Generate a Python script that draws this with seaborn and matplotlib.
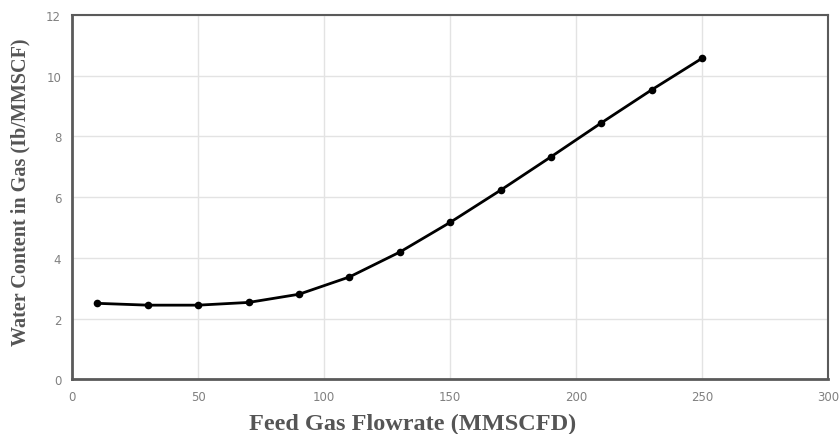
import numpy as np
import pandas as pd
import matplotlib
matplotlib.use("Agg")
import matplotlib.pyplot as plt
import seaborn as sns

# valores
flowrate = [10, 30, 50, 70, 90, 110, 130, 150, 170, 190, 210, 230, 250]
water_content = [2.50, 2.44, 2.44, 2.53, 2.80, 3.37, 4.19, 5.17, 6.23, 7.33, 8.45, 9.54, 10.58]

df = pd.DataFrame({"flowrate": flowrate, "water": water_content})

sns.set_style("white")
plt.rcParams["font.family"] = ["DejaVu Sans"]

fig, ax = plt.subplots(figsize=(8.4, 4.35), dpi=100)
fig.subplots_adjust(left=0.086, right=0.986, top=0.963, bottom=0.126)

sns.lineplot(data=df, x="flowrate", y="water", ax=ax, color="black",
             linewidth=2, marker="o", markersize=5.5, markeredgewidth=0)

ax.set_xlim(0, 300)
ax.set_ylim(0, 12)
ax.set_xticks(range(0, 301, 50))
ax.set_yticks(range(0, 13, 2))
ax.grid(True, color="#e3e3e3", linewidth=1)
ax.tick_params(axis="both", length=0, labelsize=8.5, labelcolor="#808080", pad=8)

for side in ["left", "bottom", "right", "top"]:
    ax.spines[side].set_visible(True)
    ax.spines[side].set_color("#5a5a5a")
ax.spines["left"].set_linewidth(2)
ax.spines["bottom"].set_linewidth(2)
ax.spines["top"].set_linewidth(1.5)
ax.spines["right"].set_linewidth(1.5)

lbl = dict(family="Liberation Serif", fontweight="bold", color="#555555")
ax.set_xlabel("Feed Gas Flowrate (MMSCFD)", labelpad=7, fontsize=17.5, **lbl)
ax.set_ylabel("Water Content in Gas (Ib/MMSCF)", labelpad=11, fontsize=14.5, **lbl)
ax.xaxis.label.set_x(0.45)
ax.yaxis.label.set_y(0.515)

fig.savefig("out.png", dpi=100)
